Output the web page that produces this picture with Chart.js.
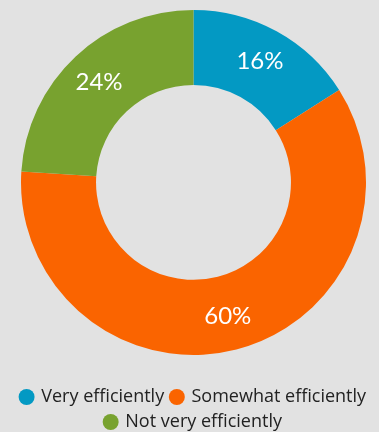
<!DOCTYPE html>
<html>
<head>
<meta charset="utf-8">
<script src="https://cdn.jsdelivr.net/npm/chart.js@4"></script>
<style>
  html, body { margin: 0; padding: 0; background: #e2e2e2; }
  #wrap { width: 379px; height: 432px; position: relative; }
</style>
</head>
<body>
<div id="wrap"><canvas id="donut"></canvas></div>
<script>
const categories = ['Very efficiently', 'Somewhat efficiently', 'Not very efficiently'];
const shares = [16, 60, 24];
const sliceColors = ['#0399c3', '#fa6400', '#78a22f'];

// white percentage text in the middle of each ring segment
const sliceLabels = {
  id: 'sliceLabels',
  afterDatasetsDraw(chart) {
    const ctx = chart.ctx;
    const meta = chart.getDatasetMeta(0);
    ctx.save();
    ctx.fillStyle = '#ffffff';
    ctx.font = '24px Lato';
    ctx.textAlign = 'center';
    ctx.textBaseline = 'middle';
    meta.data.forEach((arc, i) => {
      const p = arc.getProps(['x', 'y', 'startAngle', 'endAngle', 'innerRadius', 'outerRadius'], true);
      const mid = (p.startAngle + p.endAngle) / 2;
      const r = (p.innerRadius + p.outerRadius) / 2 + 3;
      ctx.fillText(shares[i] + '%', p.x + Math.cos(mid) * r, p.y + Math.sin(mid) * r);
    });
    ctx.restore();
  }
};

new Chart(document.getElementById('donut'), {
  type: 'doughnut',
  data: {
    labels: categories,
    datasets: [{
      data: shares,
      backgroundColor: sliceColors,
      borderWidth: 0
    }]
  },
  options: {
    responsive: true,
    maintainAspectRatio: false,
    animation: false,
    radius: 172.5,
    cutout: '56.5%',
    layout: { padding: { top: 0, left: 8, bottom: -9 } },
    plugins: {
      tooltip: { enabled: false },
      legend: {
        position: 'bottom',
        // empty title only adds a gap between the ring and the legend rows
        title: { display: true, text: '', font: { size: 1 }, padding: { top: 15, bottom: 0 } },
        labels: {
          usePointStyle: true,
          pointStyle: 'circle',
          boxWidth: 11.3,
          boxHeight: 11.3,
          padding: 7,
          color: '#222222',
          font: { family: 'Open Sans', size: 18 }
        }
      }
    }
  },
  plugins: [sliceLabels]
});
</script>
</body>
</html>
